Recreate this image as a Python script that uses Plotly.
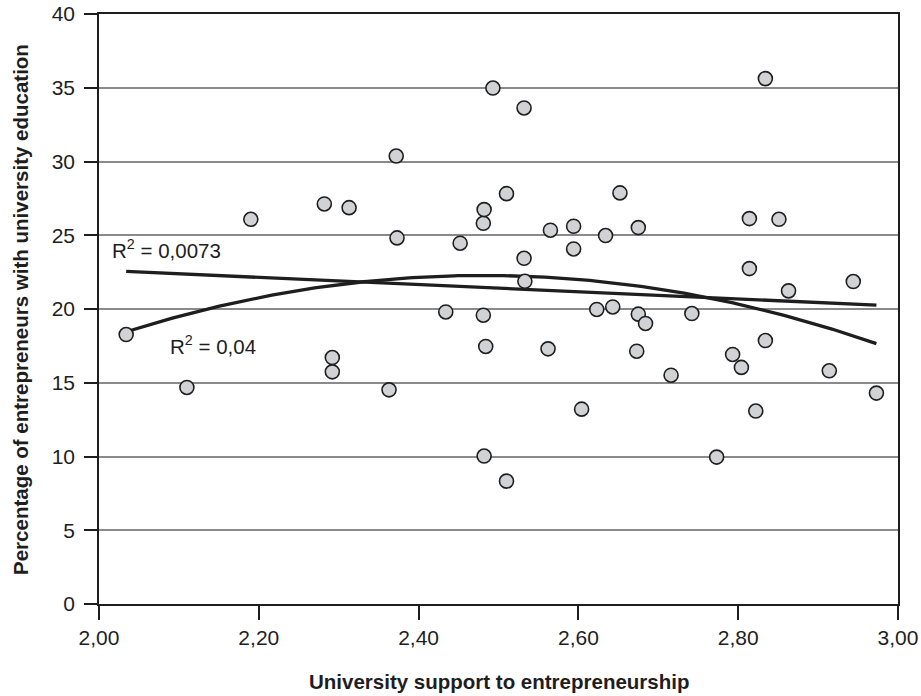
import numpy as np
import plotly.graph_objects as go

# Data
support = [2.034, 2.110, 2.190, 2.282, 2.292, 2.292, 2.313, 2.363, 2.372, 2.373,
           2.434, 2.452, 2.481, 2.481, 2.482, 2.482, 2.484, 2.493, 2.510, 2.510,
           2.532, 2.532, 2.533, 2.562, 2.565, 2.594, 2.594, 2.604, 2.623, 2.643,
           2.634, 2.652, 2.673, 2.675, 2.675, 2.684, 2.716, 2.742, 2.773, 2.793,
           2.804, 2.814, 2.814, 2.822, 2.834, 2.834, 2.851, 2.863, 2.914, 2.944,
           2.973]
pct_univ = [18.27, 14.68, 26.08, 27.12, 16.71, 15.74, 26.87, 14.52, 30.37, 24.82,
            19.80, 24.46, 19.58, 25.81, 26.74, 10.03, 17.46, 34.98, 27.82, 8.33,
            33.63, 23.44, 21.88, 17.30, 25.34, 25.61, 24.07, 13.21, 19.97, 20.14,
            24.98, 27.87, 17.14, 19.65, 25.52, 19.02, 15.51, 19.69, 9.96, 16.92,
            16.04, 26.13, 22.74, 13.08, 35.62, 17.86, 26.08, 21.23, 15.81, 21.86,
            14.30]

x_ticks = [2.0, 2.2, 2.4, 2.6, 2.8, 3.0]
x_tick_labels = ["2,00", "2,20", "2,40", "2,60", "2,80", "3,00"]
y_ticks = [0, 5, 10, 15, 20, 25, 30, 35, 40]
r2_linear_label = "R<sup>2</sup> = 0,0073"
r2_poly_label = "R<sup>2</sup> = 0,04"

FONT = "Liberation Sans, Arial, Helvetica, sans-serif"
INK = "#1e1e1e"

xa = np.array(support)
ya = np.array(pct_univ)
xs = np.linspace(xa.min(), xa.max(), 200)
lin = np.polyval(np.polyfit(xa, ya, 1), xs)
quad = np.polyval(np.polyfit(xa, ya, 2), xs)

fig = go.Figure()
fig.add_trace(go.Scatter(x=xs, y=lin, mode="lines",
                         line=dict(color=INK, width=3.3), hoverinfo="skip"))
fig.add_trace(go.Scatter(x=xs, y=quad, mode="lines",
                         line=dict(color=INK, width=3.3), hoverinfo="skip"))
fig.add_trace(go.Scatter(x=support, y=pct_univ, mode="markers",
                         marker=dict(size=14, color="#d0d2d4",
                                     line=dict(color=INK, width=1.6))))

fig.update_layout(
    width=921, height=696,
    margin=dict(l=99, r=23, t=14, b=92),
    paper_bgcolor="white", plot_bgcolor="white",
    showlegend=False,
    font=dict(family=FONT, size=20, color=INK),
)
fig.update_xaxes(
    range=[2.0, 3.0], tickvals=x_ticks, ticktext=x_tick_labels,
    showgrid=False, zeroline=False, automargin=False,
    showline=True, linecolor=INK, linewidth=1.6, mirror=True,
    ticks="outside", ticklen=14, tickwidth=1.6, tickcolor=INK,
    ticklabeloverflow="allow",
    tickfont=dict(family=FONT, size=21, color=INK),
)
fig.update_yaxes(
    range=[0, 40], tickvals=y_ticks, ticktext=[str(v) for v in y_ticks],
    showgrid=True, gridcolor="#8a8a8a", gridwidth=1.6, zeroline=False,
    automargin=False,
    showline=True, linecolor=INK, linewidth=1.6, mirror=True,
    ticks="outside", ticklen=13, tickwidth=1.6, tickcolor=INK,
    ticklabelstandoff=5, ticklabeloverflow="allow",
    tickfont=dict(family=FONT, size=21, color=INK),
)

fig.add_annotation(text="<b>University support to entrepreneurship</b>",
                   xref="paper", yref="paper", x=0.5, y=-0.1322,
                   xanchor="center", yanchor="middle", showarrow=False,
                   font=dict(family=FONT, size=20.5, color=INK))
fig.add_annotation(text="<b>Percentage of entrepreneurs with university education</b>",
                   xref="paper", yref="paper", x=-0.0989, y=0.5, textangle=-90,
                   xanchor="center", yanchor="middle", showarrow=False,
                   font=dict(family=FONT, size=20.5, color=INK))
fig.add_annotation(text=r2_linear_label, x=2.0138, y=24.05, xref="x", yref="y",
                   xanchor="left", yanchor="middle", showarrow=False,
                   font=dict(family=FONT, size=20.5, color=INK))
fig.add_annotation(text=r2_poly_label, x=2.0864, y=17.55, xref="x", yref="y",
                   xanchor="left", yanchor="middle", showarrow=False,
                   font=dict(family=FONT, size=20.5, color=INK))

# remove the default 8px page margin so the figure fills the window exactly
fig.write_html("out.html", config={"displayModeBar": False},
               post_script="document.body.style.margin='0';")
